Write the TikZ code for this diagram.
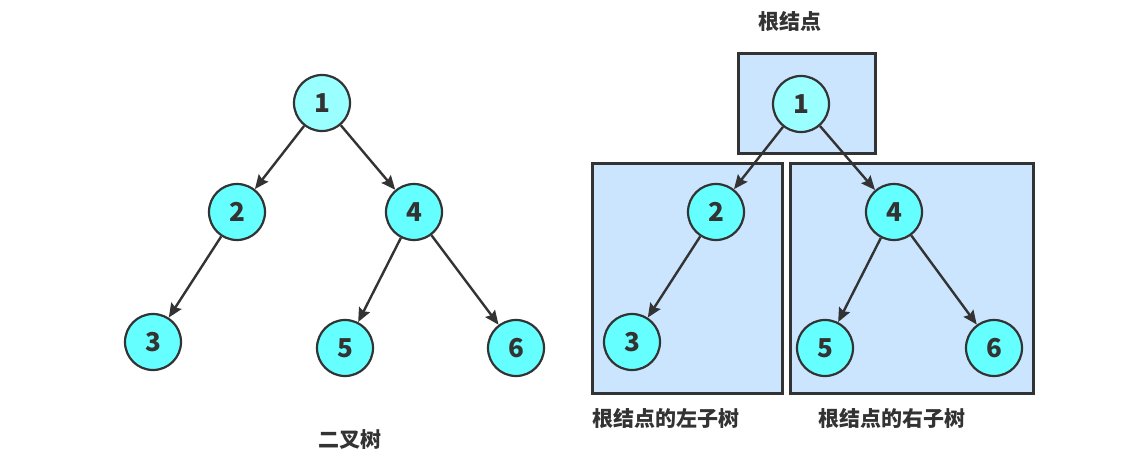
\documentclass[tikz,border=0pt]{standalone}
\usepackage{fontspec}
\newfontfamily\cjk{Noto Sans CJK SC}
\usetikzlibrary{arrows.meta}
\definecolor{strk}{HTML}{333333}
\definecolor{nodec}{HTML}{66FFFF}
\definecolor{rootc}{HTML}{99FFFF}
\definecolor{boxc}{HTML}{CCE5FF}
\begin{document}
\begin{tikzpicture}[x=1pt,y=-1pt,
  tn/.style={circle,draw=strk,line width=2.2pt,fill=nodec,minimum size=56pt,inner sep=0pt,
    font=\cjk\bfseries\fontsize{26}{26}\selectfont,text=strk},
  rootn/.style={tn,fill=rootc},
  edge/.style={draw=strk,line width=2.4pt,-{Stealth[length=14pt,width=12pt,inset=2pt]}},
  region/.style={draw=strk,line width=3pt,fill=boxc},
  lbl/.style={font=\cjk\bfseries\fontsize{21}{21}\selectfont,text=strk,inner sep=0pt}]
\useasboundingbox (0,0) rectangle (1121,476);
% left tree
\node[rootn] (a1) at (322,103) {1};
\node[tn] (a2) at (237,212) {2};
\node[tn] (a4) at (414,212) {4};
\node[tn] (a3) at (153,342) {3};
\node[tn] (a5) at (345,348) {5};
\node[tn] (a6) at (516,348) {6};
\draw[edge] (a1) -- (a2);
\draw[edge] (a1) -- (a4);
\draw[edge] (a2) -- (a3);
\draw[edge] (a4) -- (a5);
\draw[edge] (a4) -- (a6);
\node[lbl] (t1) at (350,440) {二叉树};
% right tree boxes
\draw[region] (738,54) rectangle (875,153);
\draw[region] (592,163) rectangle (782,393);
\draw[region] (790,163) rectangle (1033,393);
\node[rootn] (b1) at (801,104) {1};
\node[tn] (b2) at (716,212) {2};
\node[tn] (b4) at (894,212) {4};
\node[tn] (b3) at (632,342) {3};
\node[tn] (b5) at (825,348) {5};
\node[tn] (b6) at (994,348) {6};
\draw[edge] (b1) -- (b2);
\draw[edge] (b1) -- (b4);
\draw[edge] (b2) -- (b3);
\draw[edge] (b4) -- (b5);
\draw[edge] (b4) -- (b6);
\node[lbl] (t2) at (790,22) {根结点};
\node[lbl,anchor=west] (t3) at (592,419) {根结点的左子树};
\node[lbl,anchor=west] (t4) at (818,419) {根结点的右子树};
\end{tikzpicture}
\end{document}
